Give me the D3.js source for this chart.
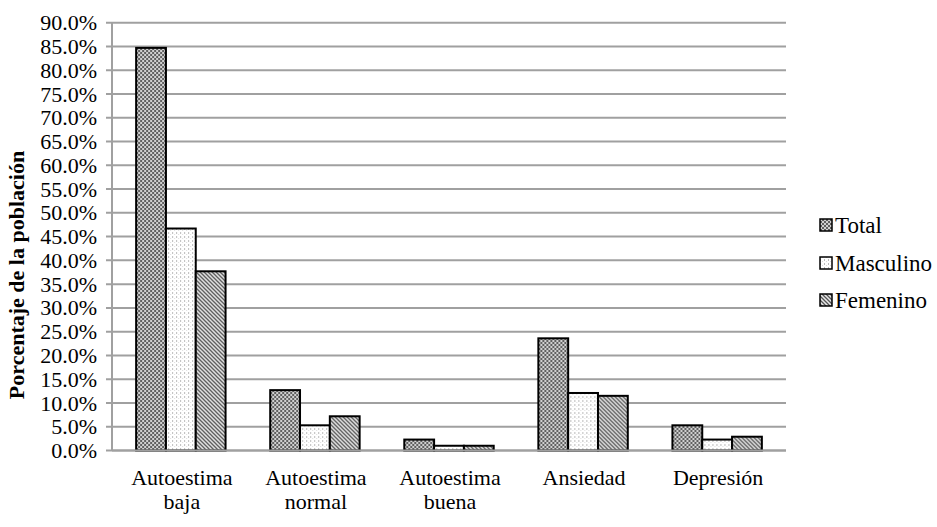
<!DOCTYPE html>
<html><head><meta charset="utf-8">
<script src="https://cdn.jsdelivr.net/npm/d3@7"></script>
<style>body{margin:0;background:#fff}svg{display:block}</style>
</head><body>
<svg id="c" width="937" height="527"></svg>
<script>
const categories = [["Autoestima","baja"],["Autoestima","normal"],["Autoestima","buena"],["Ansiedad"],["Depresión"]];
const seriesNames = ["Total","Masculino","Femenino"];
const total = [84.7, 12.7, 2.3, 23.6, 5.3];
const masculino = [46.7, 5.3, 1.0, 12.1, 2.3];
const femenino = [37.7, 7.2, 1.0, 11.5, 2.9];
const yTicks = d3.range(0, 90.001, 5);

const svg = d3.select("#c");
const font = "'Liberation Serif','Times New Roman',serif";
const m = {l:112, r:786, t:22.7, b:450.5};

const defs = svg.append("defs");
// Total: dark checker
const p1 = defs.append("pattern").attr("id","pT").attr("width",4).attr("height",4).attr("patternUnits","userSpaceOnUse");
p1.append("rect").attr("width",4).attr("height",4).attr("fill","#d0d0d0");
p1.append("rect").attr("width",2).attr("height",2).attr("fill","#606060");
p1.append("rect").attr("x",2).attr("y",2).attr("width",2).attr("height",2).attr("fill","#606060");
// Masculino: light dots
const p2 = defs.append("pattern").attr("id","pM").attr("width",4).attr("height",4).attr("patternUnits","userSpaceOnUse");
p2.append("rect").attr("width",4).attr("height",4).attr("fill","#fff");
p2.append("rect").attr("width",1).attr("height",2).attr("fill","#bbb");
p2.append("rect").attr("x",2).attr("y",2).attr("width",1).attr("height",1).attr("fill","#ddd");
// Femenino: diagonal lines
const p3 = defs.append("pattern").attr("id","pF").attr("width",4).attr("height",4).attr("patternUnits","userSpaceOnUse");
p3.append("rect").attr("width",4).attr("height",4).attr("fill","#e8e8e8");
p3.append("path").attr("d","M-1,-1 L5,5 M-1,3 L1,5 M3,-1 L5,1").attr("stroke","#555").attr("stroke-width",1.3);

const fills = ["url(#pT)","url(#pM)","url(#pF)"];
const data = [total, masculino, femenino];

const x0 = d3.scaleBand().domain(d3.range(categories.length)).range([m.l, m.r]).paddingInner(0.333).paddingOuter(0.18);
const x1 = d3.scaleBand().domain(d3.range(3)).range([0, x0.bandwidth()]);
const y = d3.scaleLinear().domain([0, 90]).range([m.b, m.t]);

// gridlines
svg.append("g").selectAll("line").data(yTicks).join("line")
  .attr("x1", m.l-6).attr("x2", m.r).attr("y1", d=>y(d)).attr("y2", d=>y(d))
  .attr("stroke","#a0a0a0").attr("stroke-width",2);

// y axis
const yAxis = d3.axisLeft(y).tickValues(yTicks).tickFormat(d=>d.toFixed(1)+"%").tickSize(0).tickPadding(15);
const ga = svg.append("g").attr("transform",`translate(${m.l},0)`).call(yAxis);
ga.select(".domain").remove();
ga.selectAll("text").attr("font-family",font).attr("font-size",22).attr("fill","#000");
svg.append("line").attr("x1",m.l).attr("x2",m.l).attr("y1",m.t).attr("y2",m.b).attr("stroke","#a0a0a0").attr("stroke-width",2);

// bars
const groups = svg.append("g").selectAll("g").data(categories).join("g")
  .attr("transform",(d,i)=>`translate(${x0(i)},0)`);
groups.selectAll("rect").data((d,i)=>data.map((s,j)=>({j, v:s[i]}))).join("rect")
  .attr("x", d=>x1(d.j)).attr("width", x1.bandwidth())
  .attr("y", d=>y(d.v)).attr("height", d=>y(0)-y(d.v))
  .attr("fill", d=>fills[d.j]).attr("stroke","#000").attr("stroke-width",2);

// baseline
svg.append("line").attr("x1",m.l).attr("x2",m.r).attr("y1",y(0)).attr("y2",y(0)).attr("stroke","#a0a0a0").attr("stroke-width",2);

// x labels
const xl = svg.append("g").selectAll("text").data(categories).join("text")
  .attr("font-family",font).attr("font-size",22).attr("text-anchor","middle").attr("fill","#000")
  .attr("x",(d,i)=>x0(i)+x0.bandwidth()/2+1).attr("y",485);
xl.selectAll("tspan").data(d=>d).join("tspan")
  .attr("x",function(){return this.parentNode.getAttribute("x");})
  .attr("dy",(d,i)=>i===0?0:24).text(d=>d);

// y title
svg.append("text").attr("transform","translate(24,275) rotate(-90)")
  .attr("text-anchor","middle").attr("font-family",font).attr("font-size",22).attr("font-weight","bold")
  .text("Porcentaje de la población");

// legend
const leg = svg.append("g").selectAll("g").data(seriesNames).join("g")
  .attr("transform",(d,i)=>`translate(820,${[225,263,300][i]})`);
leg.append("rect").attr("x",0).attr("y",-6).attr("width",12).attr("height",12)
  .attr("fill",(d,i)=>fills[i]).attr("stroke","#000").attr("stroke-width",1.5);
leg.append("text").attr("x",15).attr("y",8).attr("font-family",font).attr("font-size",23).text(d=>d);
</script>
</body></html>
